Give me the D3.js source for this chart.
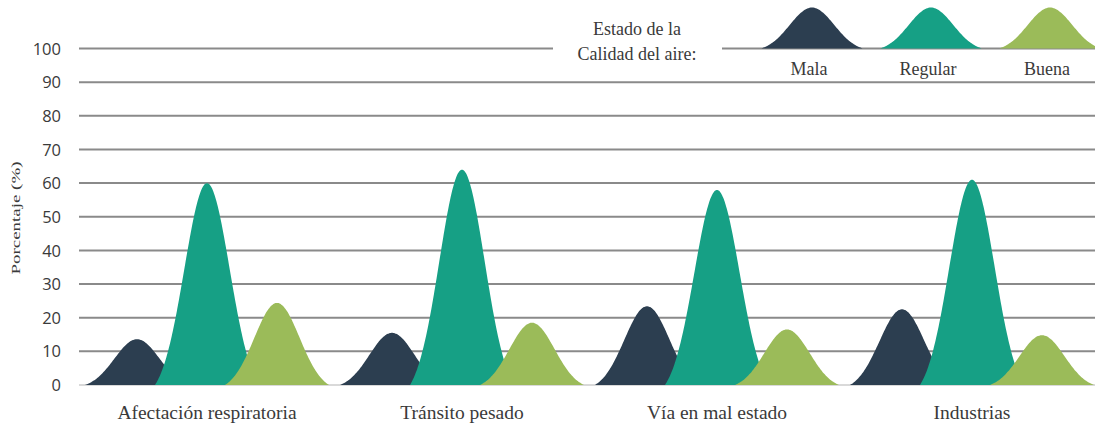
<!DOCTYPE html>
<html>
<head>
<meta charset="utf-8">
<script src="https://cdn.jsdelivr.net/npm/d3@7/dist/d3.min.js"></script>
<style>
  html, body { margin: 0; padding: 0; background: #ffffff; }
  svg { display: block; }
</style>
</head>
<body>
<svg id="chart" width="1095" height="425"></svg>
<script>
// ---- Data ----
const categories = ["Afectación respiratoria", "Tránsito pesado", "Vía en mal estado", "Industrias"];
const seriesNames = ["Mala", "Regular", "Buena"];
const mala    = [13.6, 15.5, 23.4, 22.5];
const regular = [60, 64, 58, 61];
const buena   = [24.4, 18.5, 16.5, 14.8];
const yTicks  = [0, 10, 20, 30, 40, 50, 60, 70, 80, 90, 100];
const legendTitle = ["Estado de la", "Calidad del aire:"];
const yTitle = "Porcentaje (%)";

const colors = ["#2c3e50", "#16a085", "#9bbb59"];
const seriesValues = [mala, regular, buena];

// ---- Layout ----
const svg = d3.select("#chart");
const plotLeft = 79, plotRight = 1095;
const y = d3.scaleLinear().domain([0, 100]).range([385, 48.5]);
const x = d3.scaleBand().domain(categories).range([79.5, 1099.5]);
const offset = d3.scalePoint().domain(seriesNames).range([-70, 70]);
const halfW = 52;

// bell shape (normalized gaussian, zero at both ends)
const sig = 2.3;
const e0 = Math.exp(-(sig * sig) / 2);
const shape = t => (Math.exp(-(t * sig) * (t * sig) / 2) - e0) / (1 - e0);
const ts = d3.range(-1, 1.0001, 0.02);

// ---- Gridlines ----
const grid = svg.append("g");
yTicks.forEach(v => {
  if (v === 0) {
    grid.append("line").attr("x1", plotLeft).attr("x2", plotRight)
      .attr("y1", y(v)).attr("y2", y(v))
      .attr("stroke", "#d9d9d9").attr("stroke-width", 2);
  } else if (v === 100) {
    grid.append("line").attr("x1", plotLeft).attr("x2", 553)
      .attr("y1", y(v)).attr("y2", y(v))
      .attr("stroke", "#8a8a8a").attr("stroke-width", 2);
    grid.append("line").attr("x1", 722).attr("x2", plotRight)
      .attr("y1", y(v)).attr("y2", y(v))
      .attr("stroke", "#8a8a8a").attr("stroke-width", 2);
  } else {
    grid.append("line").attr("x1", plotLeft).attr("x2", plotRight)
      .attr("y1", y(v)).attr("y2", y(v))
      .attr("stroke", "#8a8a8a").attr("stroke-width", 2);
  }
});

// ---- Y axis labels ----
const yAxis = d3.axisLeft(y).tickValues(yTicks).tickSize(0).tickPadding(0).tickFormat(d3.format("d"));
const yg = svg.append("g").attr("transform", "translate(61,0)").call(yAxis);
yg.select(".domain").remove();
yg.selectAll("text")
  .attr("font-family", "'Open Sans', sans-serif")
  .attr("font-size", 16.5)
  .attr("fill", "#3a3a3a")
  .attr("dy", "0.34em");

svg.append("text")
  .attr("transform", "translate(20,218) rotate(-90)")
  .attr("text-anchor", "middle")
  .attr("font-family", "'Liberation Serif', 'Times New Roman', serif")
  .attr("font-size", 13)
  .attr("fill", "#3a3a3a")
  .attr("textLength", 113)
  .attr("lengthAdjust", "spacingAndGlyphs")
  .text(yTitle);

// ---- Bells ----
const area = d3.area()
  .x(d => d.cx + d.t * halfW)
  .y0(y(0))
  .y1(d => y(d.v * shape(d.t)))
  .curve(d3.curveBasis);

const marks = svg.append("g");
seriesNames.forEach((s, si) => {
  categories.forEach((c, ci) => {
    const cx = x(c) + x.bandwidth() / 2 + offset(s);
    const v = seriesValues[si][ci];
    marks.append("path")
      .datum(ts.map(t => ({ t, cx, v })))
      .attr("d", area)
      .attr("fill", colors[si]);
  });
});

// ---- Category labels ----
svg.append("g").selectAll("text")
  .data(categories).join("text")
  .attr("x", d => x(d) + x.bandwidth() / 2)
  .attr("y", 419)
  .attr("text-anchor", "middle")
  .attr("font-family", "'Liberation Serif', 'Times New Roman', serif")
  .attr("font-size", 19.5)
  .attr("fill", "#3a3a3a")
  .text(d => d);

// ---- Legend ----
const lg = svg.append("g");
lg.selectAll("text.title")
  .data(legendTitle).join("text")
  .attr("class", "title")
  .attr("x", 637)
  .attr("y", (d, i) => 35 + i * 25)
  .attr("text-anchor", "middle")
  .attr("font-family", "'Liberation Serif', 'Times New Roman', serif")
  .attr("font-size", 18)
  .attr("fill", "#3a3a3a")
  .text(d => d);

const legX = d3.scalePoint().domain(seriesNames).range([812, 1050]);
const legBase = y(100), legH = 41, legHalf = 51;
const legArea = d3.area()
  .x(d => d.cx + d.t * legHalf)
  .y0(legBase)
  .y1(d => legBase - legH * shape(d.t))
  .curve(d3.curveBasis);
seriesNames.forEach((s, si) => {
  const cx = legX(s);
  lg.append("path")
    .datum(ts.map(t => ({ t, cx })))
    .attr("d", legArea)
    .attr("fill", colors[si]);
  lg.append("text")
    .attr("x", cx - 3)
    .attr("y", 75)
    .attr("text-anchor", "middle")
    .attr("font-family", "'Liberation Serif', 'Times New Roman', serif")
    .attr("font-size", 18)
    .attr("fill", "#3a3a3a")
    .text(s);
});
</script>
</body>
</html>
